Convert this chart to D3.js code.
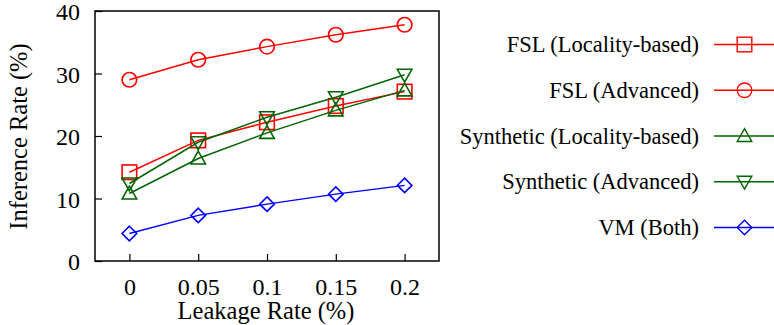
<!DOCTYPE html>
<html><head><meta charset="utf-8">
<script src="https://cdn.jsdelivr.net/npm/d3@7"></script>
<style>body{margin:0;background:#fff}svg{display:block}</style>
</head><body>
<svg id="c" width="774" height="325"></svg>
<script>
const xValues = [0, 0.05, 0.1, 0.15, 0.2];
const xTickLabels = ["0", "0.05", "0.1", "0.15", "0.2"];
const yTicks = [0, 10, 20, 30, 40];
const seriesNames = ["FSL (Locality-based)", "FSL (Advanced)", "Synthetic (Locality-based)", "Synthetic (Advanced)", "VM (Both)"];
const fslLocality = [14.2, 19.3, 22.2, 24.8, 27.1];
const fslAdvanced = [29.0, 32.2, 34.3, 36.2, 37.8];
const synLocality = [10.8, 16.4, 20.5, 24.1, 27.3];
const synAdvanced = [12.4, 19.0, 23.0, 26.2, 29.8];
const vmBoth = [4.4, 7.3, 9.1, 10.7, 12.1];
const seriesColors = ["#ff0000", "#ff0000", "#006400", "#006400", "#0000ff"];
const seriesMarkers = ["square", "circle", "up", "down", "diamond"];
const seriesValues = [fslLocality, fslAdvanced, synLocality, synAdvanced, vmBoth];

const FONT = '"Liberation Serif"';
const svg = d3.select("#c");
const L = 95, R = 439, T = 11, B = 261;
const x = d3.scaleLinear().domain([-0.025, 0.225]).range([L, R]);
const y = d3.scaleLinear().domain([0, 40]).range([B, T]);

function marker(g, type, color, sw) {
  const s = 7.3;
  let p;
  if (type === "square") p = g.append("rect").attr("x", -s).attr("y", -s).attr("width", 2*s).attr("height", 2*s);
  else if (type === "circle") p = g.append("circle").attr("r", s);
  else if (type === "up") p = g.append("path").attr("d", `M0,${-s}L${s},${s*0.75}L${-s},${s*0.75}Z`);
  else if (type === "down") p = g.append("path").attr("d", `M0,${s}L${s},${-s*0.75}L${-s},${-s*0.75}Z`);
  else p = g.append("path").attr("d", `M0,${-s}L${s},0L0,${s}L${-s},0Z`);
  p.attr("fill", "none").attr("stroke", color).attr("stroke-width", sw);
}

// axes
const yAxis = d3.axisLeft(y).tickValues(yTicks).tickSize(-7).tickFormat(d3.format("d"));
const gy = svg.append("g").attr("transform", `translate(${L},0)`).call(yAxis);
const xAxis = d3.axisBottom(x).tickValues(xValues).tickSize(-7).tickFormat((d, i) => xTickLabels[i]);
const gx = svg.append("g").attr("transform", `translate(0,${B})`).call(xAxis);
[gx, gy].forEach(g => {
  g.attr("font-family", "Liberation Serif").attr("font-size", 24);
  g.select(".domain").remove();
  g.selectAll("line").attr("stroke", "#000").attr("stroke-width", 1.2);
  g.selectAll("text").attr("font-family", "Liberation Serif").style("font-family", FONT).style("font-size", "24px").attr("fill", "#000");
});
gy.selectAll("text").attr("x", -15).attr("dy", null).attr("y", 8.5);
gx.selectAll("text").attr("y", 34).attr("dy", null);

// lines & markers
const line = d3.line().x((d, i) => x(xValues[i])).y(d => y(d));
seriesValues.forEach((vals, k) => {
  svg.append("path").datum(vals).attr("d", line).attr("fill", "none")
    .attr("stroke", seriesColors[k]).attr("stroke-width", 1.5);
  vals.forEach((v, i) => {
    const g = svg.append("g").attr("transform", `translate(${x(xValues[i])},${y(v)})`);
    marker(g, seriesMarkers[k], seriesColors[k], 1.6);
  });
});

svg.append("rect").attr("x", L).attr("y", T).attr("width", R - L).attr("height", B - T)
  .attr("fill", "none").attr("stroke", "#000").attr("stroke-width", 1.5);

// axis labels
svg.append("text").attr("x", (L + R) / 2 - 1).attr("y", 319).attr("text-anchor", "middle")
  .attr("font-family", "Liberation Serif").style("font-family", FONT).style("font-size", "24.5px").text("Leakage Rate (%)");
svg.append("text").attr("transform", `translate(26.5,${(T + B) / 2 + 0.5}) rotate(-90)`).attr("text-anchor", "middle")
  .attr("font-family", "Liberation Serif").style("font-family", FONT).style("font-size", "24.5px").text("Inference Rate (%)");

// legend
const legY = d3.scalePoint().domain(seriesNames).range([44.5, 227.5]);
seriesNames.forEach((n, k) => {
  const yy = legY(n);
  svg.append("text").attr("x", 699).attr("y", yy + 7.5).attr("text-anchor", "end")
    .attr("font-family", "Liberation Serif").style("font-family", FONT).style("font-size", "22.5px").text(n);
  svg.append("line").attr("x1", 714).attr("x2", 775).attr("y1", yy).attr("y2", yy)
    .attr("stroke", seriesColors[k]).attr("stroke-width", 1.5);
  const g = svg.append("g").attr("transform", `translate(744.5,${yy})`);
  marker(g, seriesMarkers[k], seriesColors[k], 1.4);
});
</script>
</body></html>
